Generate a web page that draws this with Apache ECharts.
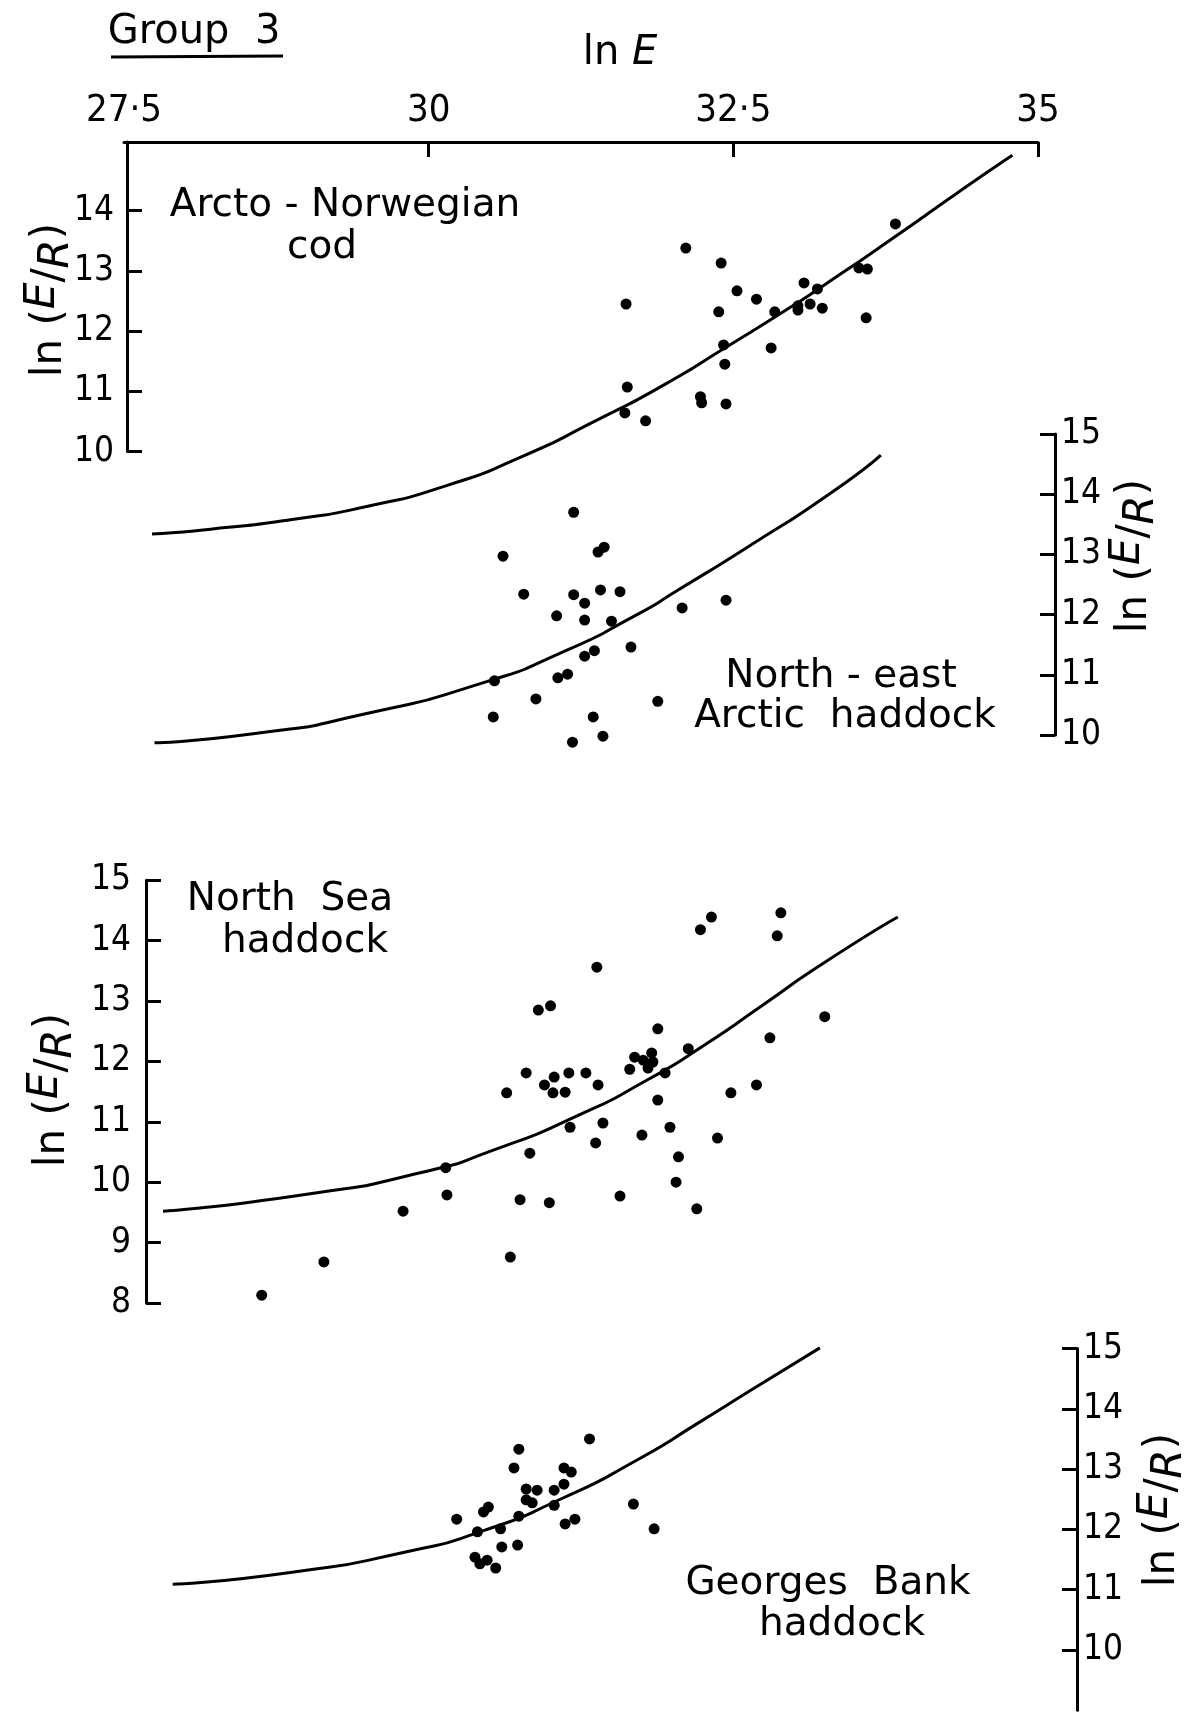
<!DOCTYPE html>
<html><head><meta charset="utf-8">
<script src="https://cdn.jsdelivr.net/npm/echarts@6/dist/echarts.min.js"></script>
<style>html,body{margin:0;padding:0;background:#fff}#c{width:1191px;height:1721px}</style>
</head><body><div id="c"></div>
<script>
// ---- x axis (ln E) ----
const xTickValues = [27.5, 30, 32.5, 35];
const xTickLabels = ['27·5', '30', '32·5', '35'];

// ---- Arcto-Norwegian cod ----
const codX = [32.11,32.40,31.62,32.53,32.69,32.38,32.84,33.08,33.19,33.03,33.03,33.13,33.23,33.53,33.60,33.59,33.83,32.42,32.81,32.43,31.63,32.23,32.24,32.44,31.61,31.78];
const codY = [13.38,13.13,12.45,12.67,12.53,12.32,12.32,12.80,12.70,12.35,12.42,12.45,12.38,13.05,13.03,12.22,13.78,11.77,11.72,11.45,11.07,10.91,10.81,10.79,10.64,10.51];
const codCurveX = [27.73,28.21,28.88,29.50,30.14,30.76,31.36,31.96,32.43,32.91,33.22,33.85,34.32,34.79];
const codCurveY = [8.63,8.71,8.87,9.09,9.43,9.91,10.50,11.14,11.72,12.32,12.73,13.60,14.27,14.92];
const codTicks = [10,11,12,13,14];

// ---- North-east Arctic haddock ----
const nehX = [31.19,30.61,31.39,31.44,30.78,31.19,31.41,31.57,31.28,31.05,31.28,31.50,32.08,32.44,31.66,31.36,31.28,31.14,31.06,30.54,30.88,31.88,30.53,31.35,31.43,31.18];
const nehY = [13.70,12.97,13.04,13.12,12.34,12.33,12.41,12.38,12.19,11.98,11.91,11.89,12.11,12.24,11.46,11.40,11.31,11.01,10.95,10.90,10.60,10.56,10.30,10.30,9.98,9.88];
const nehCurveX = [27.75,28.56,29.50,30.45,31.08,31.71,32.04,32.67,33.30,33.71];
const nehCurveY = [9.87,10.02,10.36,10.87,11.36,12.00,12.40,13.19,14.02,14.65];
const nehTicks = [10,11,12,13,14,15];

// ---- North Sea haddock ----
const nshX = [28.63,29.14,29.79,30.14,30.15,30.67,30.75,30.99,30.83,31.16,31.37,30.64,30.80,30.95,31.03,31.02,31.12,31.15,31.29,31.39,30.90,31.00,31.38,32.23,32.32,32.86,32.89,31.88,33.25,32.80,32.13,31.69,31.76,31.83,31.84,31.80,31.65,31.94,32.69,32.48,31.88,31.43,31.98,31.75,32.37,32.05,32.03,31.57,32.20];
const nshY = [8.13,8.68,9.52,10.24,9.79,8.76,9.71,9.66,10.48,10.91,10.65,11.48,11.81,11.61,11.74,11.48,11.49,11.81,11.81,11.61,12.85,12.92,13.56,14.18,14.39,14.08,14.46,12.54,12.74,12.39,12.21,12.07,12.02,12.14,11.99,11.89,11.87,11.81,11.61,11.48,11.36,10.98,10.91,10.78,10.73,10.42,10.00,9.77,9.56];
const nshCurveX = [27.82,29.00,29.94,30.57,31.20,31.80,32.27,32.74,33.22,33.85];
const nshCurveY = [9.52,9.80,10.16,10.56,11.08,11.70,12.28,12.93,13.60,14.39];
const nshTicks = [8,9,10,11,12,13,14,15];

// ---- Georges Bank haddock ----
const gbX = [30.74,31.32,30.70,31.11,31.17,30.80,30.89,31.03,31.11,30.80,30.85,31.03,30.49,30.45,30.23,30.74,30.59,30.40,31.12,31.20,31.68,31.85,30.60,30.73,30.38,30.42,30.48,30.55];
const gbY = [13.33,13.50,13.02,13.02,12.95,12.67,12.65,12.65,12.75,12.49,12.44,12.40,12.37,12.29,12.17,12.22,12.01,11.96,12.09,12.17,12.42,12.01,11.71,11.74,11.54,11.43,11.49,11.36];
const gbCurveX = [27.90,28.88,29.82,30.45,31.08,31.71,32.24,32.67,33.21];
const gbCurveY = [11.09,11.29,11.63,11.98,12.50,13.15,13.80,14.34,15.01];
const gbTicks = [10,11,12,13,14,15];

const numFont = "'DejaVu Sans Condensed', 'Liberation Sans Narrow', 'DejaVu Sans', sans-serif";
const txtFont = "'DejaVu Sans', sans-serif";

const chart = echarts.init(document.getElementById('c'), null, {renderer: 'canvas'});
const X0 = 124, XW = 914;
function g(left, top, width, height) {
  return {left, top, width, height, containLabel: false, outerBoundsMode: 'none', show: false};
}
const grids = [
  g(X0, 150.5, XW, 421.4),   // 0 cod data (8..15)
  g(X0, 434, XW, 361.2),     // 1 NE Arctic data (9..15)
  g(X0, 880.2, XW, 422.8),   // 2 North Sea data (8..15)
  g(X0, 1288.2, XW, 361.8),  // 3 Georges data (10..16)
  g(X0, 142, XW, 1),         // 4 top ln E axis
  g(127, 142, 1, 309.5),     // 5 cod axis
  g(1054, 434, 1, 301),      // 6 NE Arctic axis
  g(146, 880.2, 1, 422.8),   // 7 North Sea axis
  g(1076, 1348.5, 1, 361.8)  // 8 Georges axis
];
const dataY = [[8,15],[9,15],[8,15],[10,16]];
const lineSt = {color: '#000', width: 3};

const xAxes = [], yAxes = [];
for (let i = 0; i < 4; i++) {
  xAxes.push({gridIndex: i, type: 'value', min: 27.5, max: 35, show: false});
  yAxes.push({gridIndex: i, type: 'value', min: dataY[i][0], max: dataY[i][1], show: false});
}
// top axis
xAxes.push({
  gridIndex: 4, type: 'value', position: 'top', min: 27.5, max: 35, interval: 2.5,
  axisLine: {show: true, onZero: false, lineStyle: lineSt},
  axisTick: {show: true, inside: true, length: 15, lineStyle: lineSt, customValues: [30, 32.5, 35]},
  axisLabel: {show: true, margin: 12, color: '#000', fontSize: 38, fontFamily: numFont,
    customValues: xTickValues,
    formatter: v => { const k = xTickValues.indexOf(v); return k >= 0 ? xTickLabels[k] : ''; }},
  splitLine: {show: false}
});
yAxes.push({gridIndex: 4, type: 'value', min: 0, max: 1, show: false});

function yAx(gi, min, max, pos, ticks, margin) {
  return {
    gridIndex: gi, type: 'value', position: pos, min, max, interval: 1,
    axisLine: {show: true, onZero: false, lineStyle: lineSt},
    axisTick: {show: true, inside: true, length: 15, lineStyle: lineSt, customValues: ticks},
    axisLabel: {show: true, margin, color: '#000', fontSize: 35, fontFamily: numFont, customValues: ticks},
    splitLine: {show: false}
  };
}
const axisDefs = [
  [5, 10, 10 + 309.5 / 60.2, 'left', codTicks, 13],
  [6, 10, 15, 'right', nehTicks, 6],
  [7, 8, 15, 'left', nshTicks, 15],
  [8, 9, 15, 'right', gbTicks, 6]
];
axisDefs.forEach(d => {
  xAxes.push({gridIndex: d[0], type: 'value', min: 0, max: 1, show: false});
  yAxes.push(yAx(d[0], d[1], d[2], d[3], d[4], d[5]));
});

function sc(i, xs, ys) {
  return {type: 'scatter', xAxisIndex: i, yAxisIndex: i, data: xs.map((x, k) => [x, ys[k]]),
    symbol: 'circle', symbolSize: 11, itemStyle: {color: '#000', opacity: 1}, silent: true};
}
function cv(i, xs, ys) {
  return {type: 'line', xAxisIndex: i, yAxisIndex: i, data: xs.map((x, k) => [x, ys[k]]),
    smooth: 0.7, showSymbol: false, symbol: 'none',
    lineStyle: {color: '#000', width: 3}, silent: true};
}

function txt(x, y, text, size, extra) {
  const st = {text, fontSize: size, fontFamily: txtFont, fill: '#000',
    textAlign: 'center', textVerticalAlign: 'middle', align: 'center', verticalAlign: 'middle'};
  return Object.assign({type: 'text', x, y, silent: true, style: Object.assign(st, extra || {})});
}
function ylab(x, y) {
  const el = txt(x, y, 'ln ({e|E}/{r|R})', 42, {
    rich: {
      e: {fontStyle: 'italic', fontSize: 42, fontFamily: txtFont, padding: [0, 0, 14, 0]},
      r: {fontStyle: 'italic', fontSize: 42, fontFamily: txtFont, padding: [14, 0, 0, 0]}
    }
  });
  el.rotation = Math.PI / 2;
  return el;
}

const graphics = [
  txt(194, 33, 'Group  3', 40),
  {type: 'line', silent: true, shape: {x1: 111, y1: 57, x2: 283, y2: 56}, style: {stroke: '#000', lineWidth: 3}},
  txt(620, 54, 'ln {e|E}', 40, {rich: {e: {fontStyle: 'italic', fontSize: 40, fontFamily: txtFont}}}),
  txt(345, 206, 'Arcto - Norwegian', 39),
  txt(322, 248, 'cod', 39),
  txt(841, 677, 'North - east', 39),
  txt(845, 717, 'Arctic  haddock', 39),
  txt(290, 900, 'North  Sea', 39),
  txt(305, 942, 'haddock', 39),
  txt(828, 1584, 'Georges  Bank', 39),
  txt(842, 1625, 'haddock', 39),
  ylab(50, 300),
  ylab(1135, 556),
  ylab(53, 1090),
  ylab(1163, 1510)
];

chart.setOption({
  animation: false,
  backgroundColor: '#fff',
  grid: grids,
  xAxis: xAxes,
  yAxis: yAxes,
  series: [
    cv(0, codCurveX, codCurveY), sc(0, codX, codY),
    cv(1, nehCurveX, nehCurveY), sc(1, nehX, nehY),
    cv(2, nshCurveX, nshCurveY), sc(2, nshX, nshY),
    cv(3, gbCurveX, gbCurveY), sc(3, gbX, gbY)
  ],
  graphic: graphics
});
</script>
</body></html>
